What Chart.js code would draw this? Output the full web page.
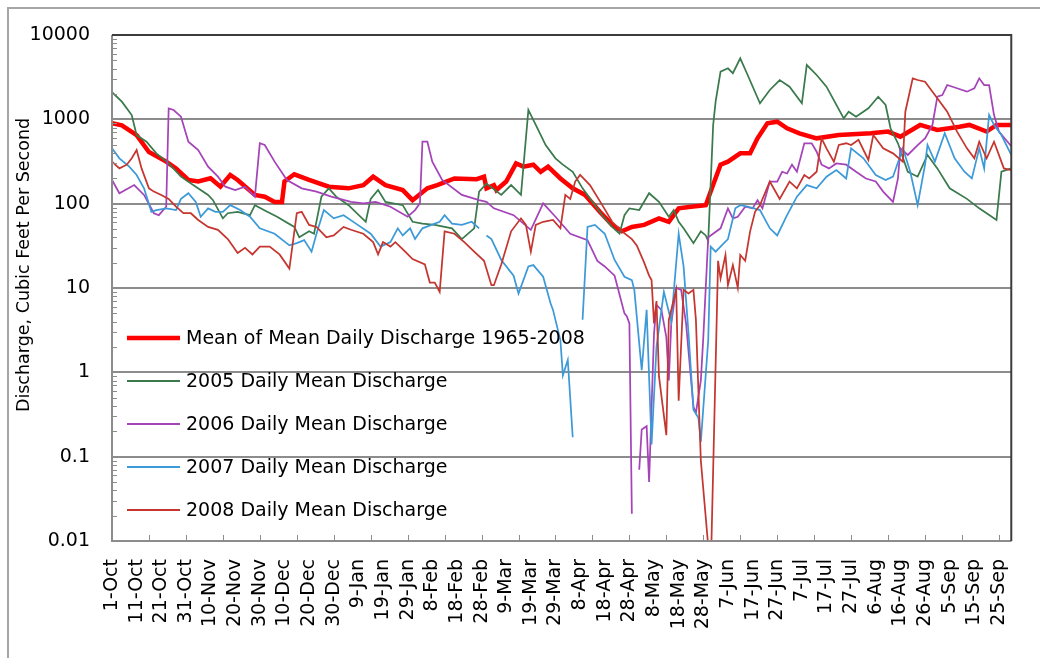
<!DOCTYPE html>
<html lang="en">
<head>
    <meta charset="UTF-8">
    <title>Daily Mean Discharge</title>
    <style>
        * {
            margin: 0;
            padding: 0;
            box-sizing: border-box;
        }

        body {
            width: 1040px;
            height: 658px;
            overflow: hidden;
            background: #fff;
        }

        /* grey frame of the pasted chart object */
        .frame {
            position: absolute;
            left: 7px;
            top: 7px;
            width: 1060px;
            height: 680px;
            border-left: 2px solid #a6a6a6;
            border-top: 2px solid #a6a6a6;
        }

        #flowChart {
            position: absolute;
            left: 0;
            top: 0;
        }
    </style>
    <script src="https://cdn.jsdelivr.net/npm/chart.js"></script>
</head>
<body>
    <div class="frame"></div>
    <canvas id="flowChart" width="1040" height="658"></canvas>

    <script>
        // day of the water year (0 = 1-Oct) and the label shown for it
        const dayTicks = [0, 10, 20, 30, 40, 50, 60, 70, 80, 90, 100, 110, 120, 130, 140, 150, 160, 170, 180,
            190, 200, 210, 220, 230, 240, 250, 260, 270, 280, 290, 300, 310, 320, 330, 340, 350, 360];
        const dayLabels = ['1-Oct', '11-Oct', '21-Oct', '31-Oct', '10-Nov', '20-Nov', '30-Nov', '10-Dec', '20-Dec',
            '30-Dec', '9-Jan', '19-Jan', '29-Jan', '8-Feb', '18-Feb', '28-Feb', '9-Mar', '19-Mar', '29-Mar',
            '8-Apr', '18-Apr', '28-Apr', '8-May', '18-May', '28-May', '7-Jun', '17-Jun', '27-Jun', '7-Jul',
            '17-Jul', '27-Jul', '6-Aug', '16-Aug', '26-Aug', '5-Sep', '15-Sep', '25-Sep'];
        const flowTicks = [0.01, 0.1, 1, 10, 100, 1000, 10000];
        const flowLabels = ['0.01', '0.1', '1', '10', '100', '1000', '10000'];

        // Mean of mean daily discharge 1965-2008
        const meanDays = [0, 4, 10, 15, 22, 26, 31, 35, 40, 44, 48, 51, 58, 62, 66, 69, 70, 74, 80, 88, 96, 102, 106,
            111, 118, 122, 128, 132, 139, 148, 151, 152, 155, 156, 160, 164, 167, 171, 174, 177, 182, 187, 192,
            198, 203, 207, 211, 216, 222, 226, 230, 235, 241, 243, 247, 250, 255, 259, 262, 266, 270, 274, 279,
            286, 295, 308, 315, 320, 328, 335, 344, 348, 355, 359, 365];
        const meanFlow = [900, 850, 650, 410, 315, 262, 191, 183, 200, 159, 219, 191, 127, 121, 105, 105, 183, 223,
            191, 159, 152, 166, 209, 166, 145, 110, 152, 166, 199, 195, 209, 152, 166, 145, 183, 300, 275, 290,
            239, 275, 199, 152, 127, 80, 56, 47, 53, 56, 67, 61, 88, 92, 96, 139, 290, 315, 395, 395, 595, 897,
            938, 783, 683, 595, 651, 683, 716, 623, 858, 749, 818, 858, 716, 858, 858];

        // 2005 daily mean discharge
        const days2005 = [0, 4, 8, 10, 14, 18, 23, 28, 34, 39, 41, 45, 47, 51, 56, 58, 63, 67, 74, 76, 80, 82, 85, 88,
            91, 96, 103, 105, 108, 111, 118, 122, 126, 131, 138, 142, 147, 149, 152, 158, 162, 166, 169, 172, 176,
            180, 183, 187, 191, 195, 199, 203, 206, 208, 210, 214, 218, 222, 226, 228, 230, 232, 236, 239, 241,
            242, 244, 245, 247, 250, 252, 255, 258, 263, 267, 271, 275, 280, 282, 286, 290, 297, 299, 302, 307,
            311, 314, 316, 319, 323, 327, 331, 335, 340, 347, 352, 359, 361, 365];
        const flow2005 = [2100, 1620, 1125, 650, 543, 395, 300, 209, 159, 127, 110, 67, 77, 80, 73, 96, 80, 70, 53,
            40, 47, 44, 121, 152, 121, 96, 61, 114, 145, 105, 96, 61, 58, 56, 51, 38, 51, 139, 173, 127, 166, 127,
            1291, 858, 496, 345, 290, 239, 152, 105, 73, 53, 44, 73, 88, 84, 133, 105, 70, 84, 61, 51, 34, 47, 42,
            36, 858, 1620, 3672, 4027, 3520, 5296, 3355, 1548, 2228, 2925, 2440, 1548, 4407, 3355, 2440, 1027,
            1231, 1074, 1350, 1854, 1479, 783, 520, 239, 209, 378, 262, 152, 114, 88, 64, 239, 262];

        // 2006 daily mean discharge (null = no plottable value)
        const days2006 = [0, 3, 9, 13, 17, 19, 22, 23, 25, 28, 31, 35, 39, 43, 46, 50, 54, 58, 60, 62, 66, 71, 77, 83,
            89, 97, 102, 107, 113, 120, 123, 125, 126, 128, 130, 134, 142, 149, 152, 155, 163, 170, 175, 180, 186,
            193, 197, 200, 204, 208, 209, 210, 211, 212, 214, 215, 217, 218, 220, 221, 223, 225, 226, 227, 229,
            231, 233, 236, 237, 239, 240, 242, 243, 247, 250, 252, 254, 257, 260, 262, 264, 267, 270, 272, 274,
            276, 278, 281, 284, 286, 288, 291, 294, 298, 302, 306, 310, 313, 317, 319, 320, 323, 327, 330, 333,
            335, 337, 339, 343, 347, 350, 352, 354, 356, 358, 360, 365];
        const flow2006 = [191, 133, 166, 127, 77, 73, 92, 1350, 1291, 1074, 543, 433, 275, 209, 159, 145, 159, 121,
            520, 496, 315, 191, 152, 139, 121, 105, 101, 105, 92, 70, 84, 101, 543, 543, 315, 191, 127, 110, 105,
            88, 73, 49, 101, 70, 44, 37, 21, 18, 14, 5, 4.6, 3.8, 0.021, null, 0.07, 0.21, 0.23, 0.05, 2.9, 6.3,
            5.5, 2.6, 0.8, 3.8, 10, 9.5, 3.8, 0.39, 0.33, 0.8, 2.6, 40, 42, 51, 88, 67, 70, 92, 88, 110, 88, 183,
            183, 239, 228, 290, 239, 520, 520, 413, 290, 262, 300, 290, 239, 199, 183, 139, 105, 199, 453, 378,
            496, 595, 858, 1854, 1940, 2553, 2335, 2128, 2335, 3063, 2553, 2553, 1125, 716, 480];

        // 2007 daily mean discharge
        const days2007 = [0, 3, 7, 10, 13, 16, 18, 22, 26, 28, 31, 34, 36, 39, 42, 45, 48, 52, 56, 60, 66, 72, 75, 78,
            81, 83, 86, 90, 94, 99, 105, 109, 113, 116, 118, 121, 123, 126, 133, 135, 138, 142, 146, 149, 150, 152,
            154, 158, 163, 165, 169, 171, 175, 178, 179, 182, 183, 185, 187, 189, 191, 193, 196, 200, 204, 208,
            211, 212, 215, 217, 219, 221, 224, 227, 230, 232, 234, 236, 238, 239, 242, 243, 245, 247, 250, 253,
            255, 258, 263, 267, 270, 274, 278, 282, 286, 290, 294, 298, 300, 305, 310, 314, 317, 321, 324, 327,
            330, 331, 334, 338, 342, 346, 349, 352, 354, 356, 358, 361, 365];
        const flow2007 = [453, 345, 275, 219, 152, 80, 84, 88, 84, 114, 133, 105, 70, 88, 80, 80, 96, 84, 70, 51, 44,
            32, 34, 37, 27, 44, 84, 67, 73, 58, 44, 31, 35, 51, 42, 51, 38, 51, 61, 73, 58, 56, 61, 51, null, 42,
            38, 21.5, 14, 8.6, 18, 18.7, 13.6, 6.6, 5.5, 2.4, 0.92, 1.4, 0.17, null, 4.2, 53, 56, 44, 21.5, 13.6,
            12.4, 9.5, 1.06, 5.5, 0.14, 2, 9, 4, 44, 18, 2.9, 0.36, 0.29, 0.15, 2.4, 31, 27, 31, 38, 88, 96, 92,
            84, 51, 42, 73, 121, 166, 152, 209, 250, 199, 453, 345, 219, 191, 209, 453, 239, 96, 290, 496, 315,
            683, 345, 239, 199, 453, 262, 1125, 858, 651, 378];

        // 2008 daily mean discharge
        const days2008 = [0, 3, 6, 8, 10, 12, 15, 17, 20, 23, 26, 29, 32, 35, 39, 43, 47, 51, 54, 57, 60, 64, 68, 72,
            75, 77, 80, 83, 87, 90, 94, 97, 102, 106, 108, 110, 113, 115, 119, 122, 127, 129, 131, 133, 135, 139,
            143, 147, 151, 154, 155, 158, 162, 166, 168, 170, 172, 175, 179, 182, 184, 186, 188, 190, 194, 199,
            203, 207, 211, 213, 216, 218, 219, 220, 221, 222, 225, 226, 229, 230, 232, 234, 236, 237, 239, 243,
            246, 247, 249, 250, 252, 254, 255, 257, 259, 261, 263, 267, 271, 275, 278, 281, 283, 286, 288, 290,
            293, 295, 298, 300, 303, 307, 309, 313, 317, 321, 322, 325, 327, 330, 334, 339, 343, 347, 350, 352,
            355, 358, 362, 365];
        const flow2008 = [315, 262, 290, 345, 433, 262, 152, 139, 127, 114, 92, 77, 77, 64, 53, 49, 38, 26, 30, 25,
            31, 31, 25, 17, 77, 80, 56, 53, 40, 42, 53, 49, 44, 35, 25, 35, 31, 35, 27, 22, 19, 11.6, 11.6, 9, 47,
            44, 35, 27, 21, 10.8, 10.8, 19, 47, 67, 56, 27, 56, 61, 64, 51, 127, 114, 183, 219, 166, 96, 61, 47,
            38, 32, 20, 14, 12.4, 3.8, 7, 0.9, 0.18, 4.2, 9.5, 0.46, 9.5, 8.6, 9.5, 4.2, 0.09, 0.004, 21, 13, 24.6,
            10.8, 18.7, 10, 24.6, 21, 47, 80, 96, 183, 114, 183, 152, 219, 199, 239, 595, 453, 315, 496, 520, 496,
            571, 330, 651, 453, 395, 315, 1231, 3063, 2925, 2790, 1940, 1231, 716, 453, 345, 543, 345, 543, 262,
            250];

        const FONT = '"DejaVu Sans", sans-serif';

        function points(days, flow) {
            return days.map((d, i) => ({ x: d, y: flow[i] }));
        }

        // ticks, legend and axis title drawn the way the spreadsheet chart has them
        const decorPlugin = {
            id: 'decor',
            afterDatasetsDraw(chart) {
                const { ctx, chartArea: a, scales: { x, y } } = chart;
                ctx.save();
                ctx.strokeStyle = '#8c8c8c';
                ctx.lineWidth = 1;
                // minor ticks on the log axis, pointing inwards
                for (let p = -2; p < 4; p++) {
                    for (let k = 2; k <= 9; k++) {
                        const py = Math.round(y.getPixelForValue(k * Math.pow(10, p))) + 0.5;
                        ctx.beginPath();
                        ctx.moveTo(a.left, py);
                        ctx.lineTo(a.left + 5, py);
                        ctx.stroke();
                    }
                }
                // date axis tick marks every 15 days
                for (let d = 15; d < 365; d += 15) {
                    const px = Math.round(x.getPixelForValue(d)) + 0.5;
                    ctx.beginPath();
                    ctx.moveTo(px, a.bottom);
                    ctx.lineTo(px, a.bottom - 6);
                    ctx.stroke();
                }
                // plot frame: grey axes, dark top and right edge
                ctx.lineWidth = 2;
                ctx.strokeStyle = '#8c8c8c';
                ctx.beginPath();
                ctx.moveTo(a.left, a.top);
                ctx.lineTo(a.left, a.bottom);
                ctx.lineTo(a.right, a.bottom);
                ctx.stroke();
                ctx.strokeStyle = '#3c3c3c';
                ctx.beginPath();
                ctx.moveTo(a.left, a.top);
                ctx.lineTo(a.right, a.top);
                ctx.lineTo(a.right, a.bottom);
                ctx.stroke();
                ctx.restore();
            },
            afterDraw(chart) {
                const ctx = chart.ctx;
                const rows = [338, 381, 424, 467, 510];
                ctx.save();
                ctx.font = '19px ' + FONT;
                ctx.fillStyle = '#000';
                ctx.textBaseline = 'middle';
                chart.data.datasets.forEach((ds, i) => {
                    ctx.strokeStyle = ds.borderColor;
                    ctx.lineWidth = i === 0 ? 4.5 : 2;
                    ctx.beginPath();
                    ctx.moveTo(127, rows[i]);
                    ctx.lineTo(180, rows[i]);
                    ctx.stroke();
                    ctx.fillText(ds.label, 186, rows[i] + 1);
                });
                // value axis title
                ctx.translate(24, 265);
                ctx.rotate(-Math.PI / 2);
                ctx.textAlign = 'center';
                ctx.font = '17.5px ' + FONT;
                ctx.fillText('Discharge, Cubic Feet Per Second', 0, 0);
                ctx.restore();
            }
        };

        const thin = { borderWidth: 1.75, pointRadius: 0, spanGaps: false };

        new Chart(document.getElementById('flowChart'), {
            type: 'line',
            data: {
                datasets: [
                    { label: 'Mean of Mean Daily Discharge 1965-2008', data: points(meanDays, meanFlow),
                      borderColor: '#ff0000', borderWidth: 4.5, pointRadius: 0, order: 5 },
                    { label: '2005 Daily Mean Discharge', data: points(days2005, flow2005),
                      borderColor: '#3a7a4c', order: 4, ...thin },
                    { label: '2006 Daily Mean Discharge', data: points(days2006, flow2006),
                      borderColor: '#a544b8', order: 3, ...thin },
                    { label: '2007 Daily Mean Discharge', data: points(days2007, flow2007),
                      borderColor: '#3d9ad9', order: 2, ...thin },
                    { label: '2008 Daily Mean Discharge', data: points(days2008, flow2008),
                      borderColor: '#c4362f', order: 1, ...thin }
                ]
            },
            options: {
                responsive: false,
                animation: false,
                layout: { padding: { left: 0, right: 18, top: 35, bottom: 0 } },
                elements: { line: { tension: 0 } },
                plugins: {
                    legend: { display: false },
                    tooltip: { enabled: false }
                },
                scales: {
                    x: {
                        type: 'linear',
                        min: 0,
                        max: 365,
                        afterFit(scale) { scale.height = 117; },
                        afterBuildTicks(scale) { scale.ticks = dayTicks.map(v => ({ value: v })); },
                        ticks: {
                            autoSkip: false,
                            minRotation: 90,
                            maxRotation: 90,
                            padding: 18,
                            color: '#000',
                            font: { family: FONT, size: 19 },
                            callback: v => dayLabels[dayTicks.indexOf(v)]
                        },
                        grid: { display: false, drawTicks: false },
                        border: { display: false }
                    },
                    y: {
                        type: 'logarithmic',
                        min: 0.01,
                        max: 10000,
                        afterFit(scale) { scale.width = 112; },
                        afterBuildTicks(scale) { scale.ticks = flowTicks.map(v => ({ value: v })); },
                        ticks: {
                            padding: 22,
                            color: '#000',
                            font: { family: FONT, size: 19 },
                            callback: v => flowLabels[flowTicks.indexOf(v)]
                        },
                        grid: { color: '#8c8c8c', lineWidth: 2, drawTicks: false },
                        border: { display: false }
                    }
                }
            },
            plugins: [decorPlugin]
        });
    </script>
</body>
</html>
